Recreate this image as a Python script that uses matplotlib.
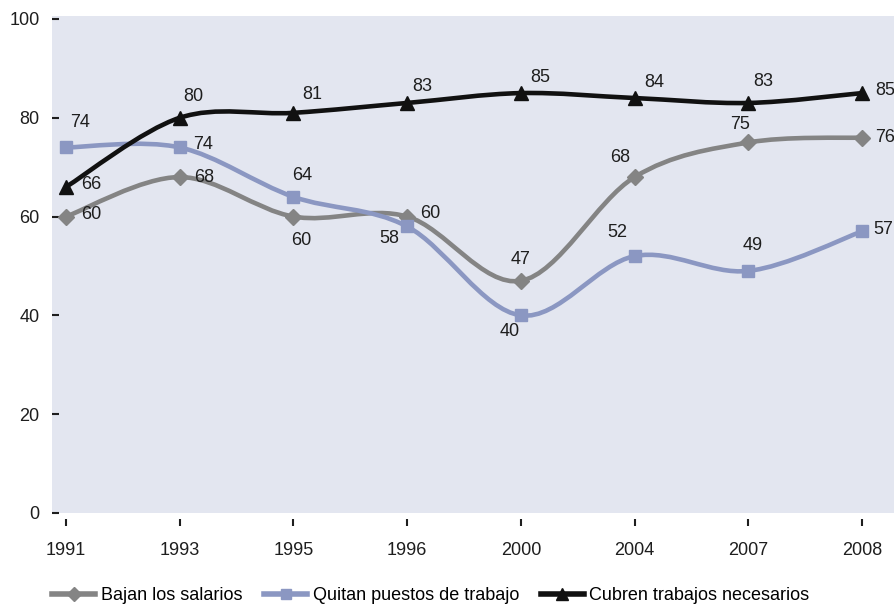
import matplotlib
matplotlib.use("Agg")
import matplotlib.pyplot as plt
import numpy as np
from matplotlib.path import Path
from matplotlib.patches import PathPatch
from matplotlib.lines import Line2D

plt.rcParams['font.family'] = ['Liberation Sans', 'DejaVu Sans']

# Datos
years = ['1991', '1993', '1995', '1996', '2000', '2004', '2007', '2008']
bajan = [60, 68, 60, 60, 47, 68, 75, 76]
quitan = [74, 74, 64, 58, 40, 52, 49, 57]
cubren = [66, 80, 81, 83, 85, 84, 83, 85]
series_names = ['Bajan los salarios', 'Quitan puestos de trabajo', 'Cubren trabajos necesarios']

# desplazamiento de etiquetas (pixeles)
off_bajan = [(25, 2), (24, 0), (8, -24), (23, 3), (0, 21), (-14, 20), (-8, 18), (23, 0)]
off_quitan = [(14, 25), (23, 3), (9, 21), (-18, -12), (-11, -16), (-17, 24), (4, 25), (21, 2)]
off_cubren = [(25, 2), (14, 21), (19, 18), (15, 16), (19, 16), (20, 16), (15, 21), (23, 3)]


def smooth_path(x, y):
    # curva suave tipo Catmull-Rom convertida a Bezier cubica
    x = np.asarray(x, float)
    y = np.asarray(y, float)
    n = len(x)
    verts = [(x[0], y[0])]
    codes = [Path.MOVETO]
    for i in range(n - 1):
        i0 = max(i - 1, 0)
        i3 = min(i + 2, n - 1)
        c1 = (x[i] + (x[i + 1] - x[i0]) / 6, y[i] + (y[i + 1] - y[i0]) / 6)
        c2 = (x[i + 1] - (x[i3] - x[i]) / 6, y[i + 1] - (y[i3] - y[i]) / 6)
        verts += [c1, c2, (x[i + 1], y[i + 1])]
        codes += [Path.CURVE4] * 3
    return Path(verts, codes)


fig = plt.figure(figsize=(8.95, 6.07), dpi=100)
ax = fig.add_axes([0.0581, 0.1549, 0.9419, 0.8187])
ax.set_facecolor('#e3e6f0')

xs = np.arange(len(years))
styles = [
    (bajan, '#848484', 'D', 8, off_bajan),
    (quitan, '#8b97c2', 's', 8, off_quitan),
    (cubren, '#111111', '^', 10, off_cubren),
]

handles = []
for (vals, col, mk, ms, offs), name in zip(styles, series_names):
    patch = PathPatch(smooth_path(xs, vals), facecolor='none', edgecolor=col,
                      lw=3.3, capstyle='round', joinstyle='round', zorder=3)
    ax.add_patch(patch)
    ax.plot(xs, vals, linestyle='none', marker=mk, ms=ms, color=col, zorder=4)
    for xi, v, (dx, dy) in zip(xs, vals, offs):
        ax.annotate(str(v), (xi, v), xytext=(dx, dy), textcoords='offset pixels',
                    ha='center', va='center', fontsize=13, color='#1e1e1e',
                    annotation_clip=False, zorder=5)
    handles.append(Line2D([], [], color=col, lw=4, marker=mk, ms=ms * 0.85))

ax.set_xlim(-0.123, 7.29)
ax.set_ylim(0.2, 100.6)
ax.set_xticks(xs)
ax.set_xticklabels(years)
ax.set_yticks([0, 20, 40, 60, 80, 100])

for s in ax.spines.values():
    s.set_visible(False)
ax.spines['bottom'].set_position(('outward', 4))

ax.tick_params(axis='x', direction='out', length=5, width=1.5, pad=12,
               labelsize=13, colors='#1e1e1e')
ax.tick_params(axis='y', direction='in', length=5, width=1.5, pad=9,
               labelsize=13, colors='#1e1e1e')

fig.legend(handles, series_names, loc='lower left', bbox_to_anchor=(0.05, -0.007),
           ncol=3, frameon=False, fontsize=13, handlelength=2.4,
           handletextpad=0.3, columnspacing=1.2, borderaxespad=0)

fig.savefig('out.png', dpi=100)
